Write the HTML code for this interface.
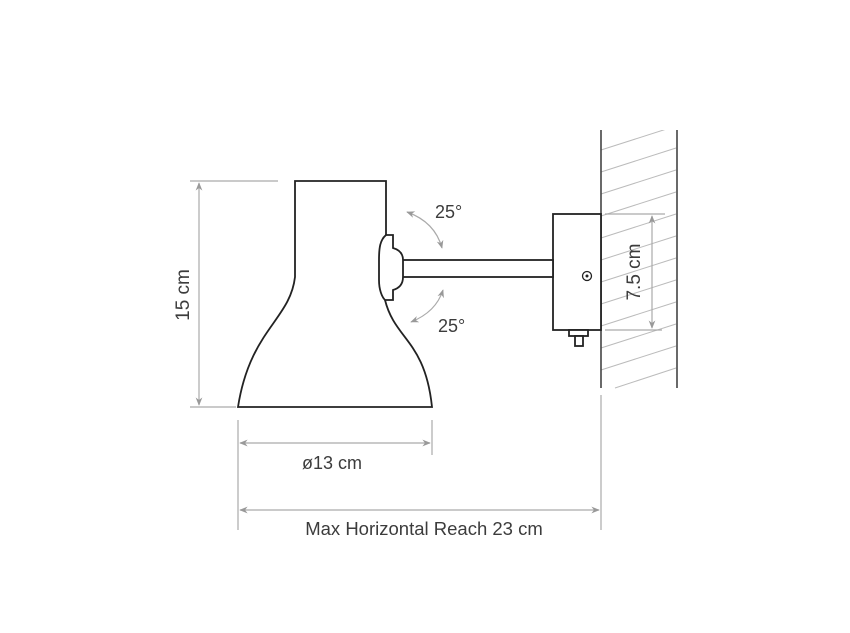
<!DOCTYPE html><html><head><style>body{margin:0;background:#fff}svg{display:block}text{font-family:"Liberation Sans",sans-serif;fill:#3c3c3c}</style></head><body>
<svg width="850" height="633" viewBox="0 0 850 633">
<defs><marker id="a" viewBox="0 0 10 10" refX="9" refY="5" markerWidth="7" markerHeight="7" orient="auto-start-reverse"><path d="M0,1 L10,5 L0,9 L3,5z" fill="#999"/></marker></defs>
<g stroke="#bbb" stroke-width="1">
<line x1="601" y1="150" x2="676" y2="126"/><line x1="601" y1="172" x2="676" y2="148"/><line x1="601" y1="194" x2="676" y2="170"/><line x1="601" y1="216" x2="676" y2="192"/><line x1="601" y1="238" x2="676" y2="214"/><line x1="601" y1="260" x2="676" y2="236"/><line x1="601" y1="282" x2="676" y2="258"/><line x1="601" y1="304" x2="676" y2="280"/><line x1="601" y1="326" x2="676" y2="302"/><line x1="601" y1="348" x2="676" y2="324"/><line x1="601" y1="370" x2="676" y2="346"/><line x1="615" y1="388" x2="676" y2="368"/>
</g>
<rect x="601" y="120" width="76" height="10" fill="#fff"/>
<g stroke="#444" stroke-width="1.6" fill="none">
<line x1="601" y1="130" x2="601" y2="388"/><line x1="677" y1="130" x2="677" y2="388"/>
</g>
<g stroke="#222" stroke-width="1.8" fill="#fff">
<rect x="553" y="214" width="48" height="116"/>
<rect x="569" y="330" width="19" height="6"/><rect x="575" y="336" width="8" height="10"/>
<rect x="400" y="260" width="153" height="17"/>
<path d="M386,235 L386,181 L295,181 L295,277 C290,320 250,330 238,407 L432,407 C425,340 395,340 385,300"/>
<path d="M393,235 L386,235 C380,240 379,248 379,260 L379,280 C379,290 382,297 385,300 L393,300 L393,290 C400,288 403,283 403,277 L403,260 C403,254 400,250 393,248 Z"/>
</g>
<circle cx="587" cy="276" r="4.5" fill="none" stroke="#222" stroke-width="1.3"/><circle cx="587" cy="276" r="1.5" fill="#222"/>
<g stroke="#aaa" stroke-width="1.2" fill="none">
<line x1="190" y1="181" x2="278" y2="181"/><line x1="190" y1="407" x2="236" y2="407"/>
<line x1="199" y1="183" x2="199" y2="405" marker-start="url(#a)" marker-end="url(#a)"/>
<line x1="238" y1="420" x2="238" y2="530"/><line x1="432" y1="420" x2="432" y2="455"/><line x1="601" y1="395" x2="601" y2="530"/>
<line x1="240" y1="443" x2="430" y2="443" marker-start="url(#a)" marker-end="url(#a)"/>
<line x1="240" y1="510" x2="599" y2="510" marker-start="url(#a)" marker-end="url(#a)"/>
<line x1="605" y1="214" x2="665" y2="214"/><line x1="605" y1="330" x2="662" y2="330"/>
<line x1="652" y1="216" x2="652" y2="328" marker-start="url(#a)" marker-end="url(#a)"/>
<path d="M407,212 Q435,222 442,248" marker-start="url(#a)" marker-end="url(#a)"/>
<path d="M443,290 Q436,312 411,322" marker-start="url(#a)" marker-end="url(#a)"/>
</g>
<text x="435" y="218" font-size="18">25°</text>
<text x="438" y="332" font-size="18">25°</text>
<text x="332" y="469" font-size="18" text-anchor="middle">ø13 cm</text>
<text x="424" y="535" font-size="18.5" text-anchor="middle">Max Horizontal Reach 23 cm</text>
<text transform="translate(189,295) rotate(-90)" font-size="19" text-anchor="middle">15 cm</text>
<text transform="translate(640,272) rotate(-90)" font-size="19" text-anchor="middle">7.5 cm</text>
</svg></body></html>
